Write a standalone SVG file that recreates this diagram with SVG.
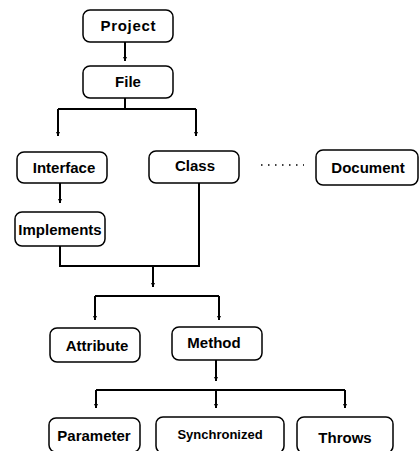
<svg xmlns="http://www.w3.org/2000/svg" width="420" height="451" viewBox="0 0 420 451">
<defs>
<marker id="ah" viewBox="0 0 6 6" refX="6" refY="3" markerWidth="4" markerHeight="4" markerUnits="userSpaceOnUse" orient="auto">
<path d="M0,0 L6,3 L0,6 z" fill="#000"/>
</marker>
<style>
.box{fill:#fff;stroke:#000;stroke-width:1.5}
.t{font-family:"Liberation Sans",Arial,sans-serif;font-weight:bold;font-size:15px;text-anchor:middle;fill:#000}
.s{font-size:13px}
.c{fill:none;stroke:#000;stroke-width:2}
.a{fill:none;stroke:#000;stroke-width:2;marker-end:url(#ah)}
.d{fill:none;stroke:#000;stroke-width:1.5;stroke-dasharray:1.5 5.5}
</style>
</defs>
<rect width="420" height="451" fill="#fff"/>
<g id="connectors">
<path class="a" d="M125,42 V61"/>
<path class="c" d="M125,98 V109 M58,109 H196"/>
<path class="a" d="M58,109 V136"/>
<path class="a" d="M196,109 V136"/>
<path class="a" d="M60,183 V203"/>
<path class="c" d="M60,246 V266 H199 V183"/>
<path class="a" d="M153,266 V287"/>
<path class="c" d="M95,296 H219"/>
<path class="a" d="M95,296 V320"/>
<path class="a" d="M219,296 V320"/>
<path class="a" d="M216,360 V381"/>
<path class="c" d="M96,390 H345"/>
<path class="a" d="M96,390 V408"/>
<path class="a" d="M216,390 V408"/>
<path class="a" d="M345,390 V408"/>
<path class="d" d="M261,165 H304"/>
</g>
<g id="project"><rect class="box" x="83" y="10" width="90" height="32" rx="7"/><text class="t" x="128" y="31" textLength="55">Project</text></g>
<g id="file"><rect class="box" x="83" y="66" width="90" height="32" rx="7"/><text class="t" x="128" y="87">File</text></g>
<g id="interface"><rect class="box" x="17" y="152" width="90" height="31" rx="7"/><text class="t" x="64" y="173">Interface</text></g>
<g id="class"><rect class="box" x="149" y="151" width="90" height="32" rx="7"/><text class="t" x="195" y="171">Class</text></g>
<g id="document"><rect class="box" x="316" y="150" width="102" height="35" rx="7"/><text class="t" x="368" y="173">Document</text></g>
<g id="implements"><rect class="box" x="15" y="212" width="90" height="34" rx="7"/><text class="t" x="60" y="235">Implements</text></g>
<g id="attribute"><rect class="box" x="50" y="328" width="90" height="34" rx="7"/><text class="t" x="97" y="351">Attribute</text></g>
<g id="method"><rect class="box" x="172" y="327" width="90" height="33" rx="7"/><text class="t" x="214" y="348">Method</text></g>
<g id="parameter"><rect class="box" x="49" y="418" width="91" height="34" rx="7"/><text class="t" x="94" y="441">Parameter</text></g>
<g id="synchronized"><rect class="box" x="156" y="417" width="128" height="36" rx="7"/><text class="t s" x="220" y="439">Synchronized</text></g>
<g id="throws"><rect class="box" x="297" y="417" width="96" height="36" rx="7"/><text class="t" x="345" y="443">Throws</text></g>
</svg>
